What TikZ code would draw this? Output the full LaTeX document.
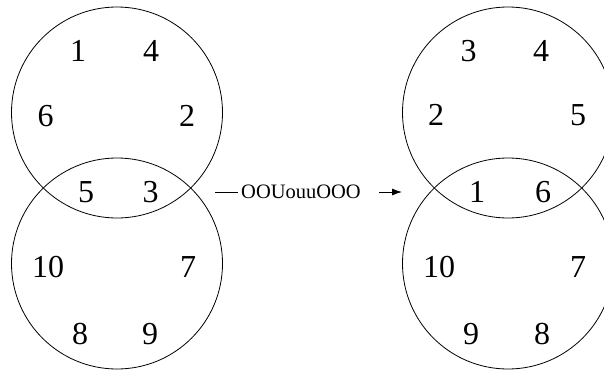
\documentclass[tikz,border=0pt]{standalone}
\usepackage{fontspec}
\setmainfont{Liberation Serif}
\usetikzlibrary{arrows.meta}

\tikzset{
  ring/.style={line width=0.8pt},
  num/.style={inner sep=0pt, font=\fontsize{32}{32}\selectfont},
  move/.style={line width=0.9pt},
  movelabel/.style={inner sep=0pt, font=\fontsize{20.5}{20.5}\selectfont}
}

\begin{document}
\begin{tikzpicture}[x=1pt,y=-1pt]
  \useasboundingbox (0,0) rectangle (604,369);
  \clip (0,0) rectangle (604,369);

  % left pair
  \coordinate (lt) at (117,112.5);
  \coordinate (lb) at (117,263.5);
  \draw[ring] (lt) circle[radius=105.5pt];
  \draw[ring] (lb) circle[radius=105.5pt];
  \node[num] (l1) at (78,51) {1};
  \node[num] (l4) at (151,51) {4};
  \node[num] (l6) at (45.5,116) {6};
  \node[num] (l2) at (187,116) {2};
  \node[num] (l5) at (86,192) {5};
  \node[num] (l3) at (150.5,192) {3};
  \node[num] (l10) at (48,267) {10};
  \node[num] (l7) at (188,267) {7};
  \node[num] (l8) at (80,334) {8};
  \node[num] (l9) at (150,334) {9};

  % right pair
  \coordinate (rt) at (508,112.5);
  \coordinate (rb) at (508,263.5);
  \draw[ring] (rt) circle[radius=105.5pt];
  \draw[ring] (rb) circle[radius=105.5pt];
  \node[num] (r3) at (468.5,51) {3};
  \node[num] (r4) at (541,51) {4};
  \node[num] (r2) at (436,115) {2};
  \node[num] (r5) at (578,115) {5};
  \node[num] (r1) at (477,192) {1};
  \node[num] (r6) at (543,192) {6};
  \node[num] (r10) at (439,267) {10};
  \node[num] (r7) at (578,267) {7};
  \node[num] (r9) at (471,334) {9};
  \node[num] (r8) at (542,334) {8};

  % the move
  \node[movelabel] (word) at (301,192) {OOUouuOOO};
  \coordinate (from) at (215,192);
  \coordinate (to) at (402,192);
  \draw[move] (from) -- ([xshift=-3pt]word.west);
  \draw[move, -{Latex[length=10pt,width=7pt]}] ([xshift=18pt]word.east) -- (to);
\end{tikzpicture}
\end{document}
